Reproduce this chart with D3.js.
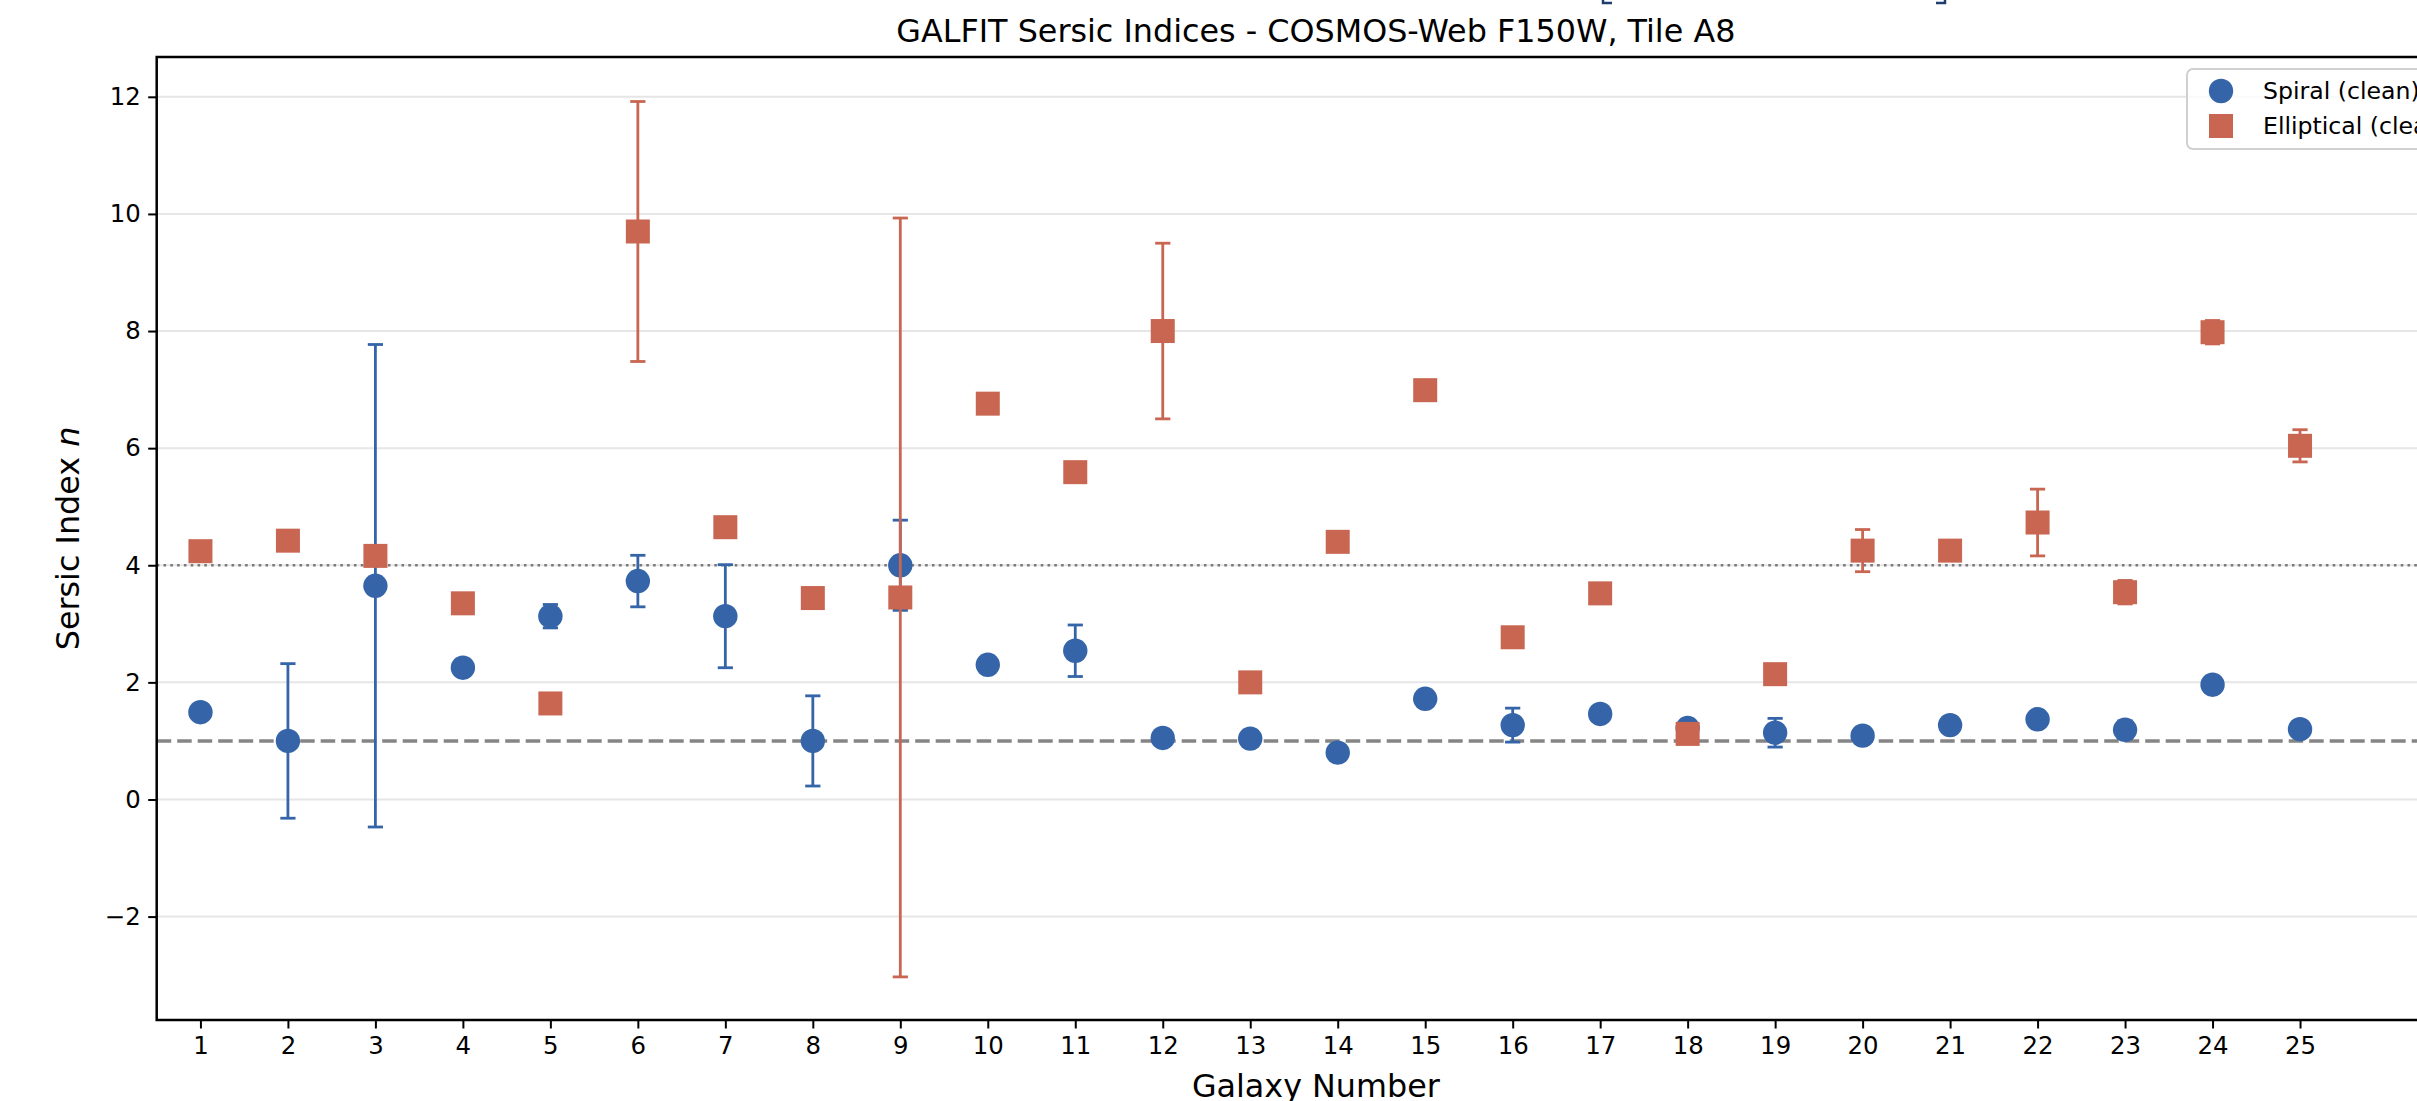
<!DOCTYPE html>
<html>
<head>
<meta charset="utf-8">
<script src="https://cdn.jsdelivr.net/npm/d3@7"></script>
<style>
  body { margin: 0; background: #fff; }
  svg { display: block; font-family: "DejaVu Sans", sans-serif; }
</style>
</head>
<body>
<svg id="chart"></svg>
<script>
// galaxy numbers and fitted sersic indices
var galaxyIds = [1, 2, 3, 4, 5, 6, 7, 8, 9, 10, 11, 12, 13, 14, 15, 16, 17, 18, 19, 20, 21, 22, 23, 24, 25];
var spiralN   = [1.49, 1.00, 3.65, 2.25, 3.13, 3.73, 3.13, 1.00, 4.00, 2.30, 2.54, 1.05, 1.04, 0.80, 1.72, 1.27, 1.46, 1.22, 1.14, 1.09, 1.27, 1.37, 1.19, 1.96, 1.20];
var spiralErr = [0, 1.32, 4.12, 0, 0.20, 0.44, 0.88, 0.77, 0.77, 0, 0.44, 0, 0, 0, 0, 0.29, 0, 0, 0.245, 0, 0, 0, 0.15, 0, 0];
var ellipN    = [4.24, 4.42, 4.16, 3.35, 1.64, 9.70, 4.65, 3.44, 3.45, 6.76, 5.59, 8.00, 2.00, 4.40, 6.99, 2.77, 3.52, 1.12, 2.14, 4.25, 4.25, 4.73, 3.54, 7.98, 6.04];
var ellipErr  = [0, 0, 0, 0, 0, 2.22, 0, 0, 6.48, 0, 0, 1.50, 0, 0, 0, 0, 0, 0, 0, 0.36, 0, 0.57, 0.20, 0.20, 0.275];
var yTicks = [-2, 0, 2, 4, 6, 8, 10, 12];
var refLines = [1, 4]; // exponential disk / de Vaucouleurs

var width = 2417;
var height = 1101;
var axLeft = 156.7, axRight = 2475, axTop = 57, axBottom = 1020;

var blue = "#3565a8";
var red = "#c86652";

var spiral = galaxyIds.map((g, i) => ({g: g, n: spiralN[i], e: spiralErr[i]}));
var ellip = galaxyIds.map((g, i) => ({g: g, n: ellipN[i], e: ellipErr[i]}));

var xScale = d3.scaleLinear()
                .domain([0.5, 27])
                .range([axLeft, axRight]);
var yScale = d3.scaleLinear()
                .domain([-3.766, 12.68])
                .range([axBottom, axTop]);

var svg = d3.select("#chart")
    .attr("width", width)
    .attr("height", height);

svg.append("rect").attr("width", width).attr("height", height).attr("fill", "#fff");

// gridlines
svg.append("g")
    .selectAll("line")
    .data(yTicks)
  .enter()
  .append("line")
    .attr("x1", axLeft).attr("x2", axRight)
    .attr("y1", d => yScale(d)).attr("y2", d => yScale(d))
    .attr("stroke", "#e6e6e6")
    .attr("stroke-width", 2);

// reference lines n=1 dashed, n=4 dotted
svg.append("line")
    .attr("x1", axLeft).attr("x2", axRight)
    .attr("y1", yScale(refLines[0])).attr("y2", yScale(refLines[0]))
    .attr("stroke", "#858585")
    .attr("stroke-width", 3.6)
    .attr("stroke-dasharray", "14.5,6");
svg.append("line")
    .attr("x1", axLeft).attr("x2", axRight)
    .attr("y1", yScale(refLines[1])).attr("y2", yScale(refLines[1]))
    .attr("stroke", "#7a7a7a")
    .attr("stroke-width", 2.6)
    .attr("stroke-dasharray", "2.6,4.2");

function drawSeries(data, color, shape) {
    var g = svg.append("g");
    var withErr = data.filter(d => d.e > 0);
    var cap = 7.6;
    g.selectAll("line.bar")
        .data(withErr)
      .enter()
      .append("line")
        .attr("x1", d => xScale(d.g)).attr("x2", d => xScale(d.g))
        .attr("y1", d => yScale(d.n - d.e)).attr("y2", d => yScale(d.n + d.e))
        .attr("stroke", color).attr("stroke-width", 2.8);
    [-1, 1].forEach(s => {
        g.selectAll("line.cap" + s)
            .data(withErr)
          .enter()
          .append("line")
            .attr("x1", d => xScale(d.g) - cap).attr("x2", d => xScale(d.g) + cap)
            .attr("y1", d => yScale(d.n + s * d.e)).attr("y2", d => yScale(d.n + s * d.e))
            .attr("stroke", color).attr("stroke-width", 2.8);
    });
    if (shape == "circle") {
        g.selectAll("circle")
            .data(data)
          .enter()
          .append("circle")
            .attr("cx", d => xScale(d.g))
            .attr("cy", d => yScale(d.n))
            .attr("r", 12.2)
            .attr("fill", color);
    } else {
        g.selectAll("rect")
            .data(data)
          .enter()
          .append("rect")
            .attr("x", d => xScale(d.g) - 12)
            .attr("y", d => yScale(d.n) - 12)
            .attr("width", 24).attr("height", 24)
            .attr("fill", color);
    }
}
drawSeries(spiral, blue, "circle");
drawSeries(ellip, red, "square");

// axes
var xAxis = d3.axisBottom(xScale)
                .tickValues(galaxyIds)
                .tickFormat(d3.format("d"))
                .tickSize(8.5)
                .tickPadding(8)
                .tickSizeOuter(0);
var yAxis = d3.axisLeft(yScale)
                .tickValues(yTicks)
                .tickFormat(d => d < 0 ? "\u2212" + Math.abs(d) : d)
                .tickSize(8.5)
                .tickPadding(7.5)
                .tickSizeOuter(0);

var gx = svg.append("g")
    .attr("transform", `translate(0, ${axBottom})`)
    .call(xAxis);
var gy = svg.append("g")
    .attr("transform", `translate(${axLeft}, 0)`)
    .call(yAxis);
[gx, gy].forEach(a => {
    a.select(".domain").remove();
    a.selectAll(".tick line").attr("stroke", "#000").attr("stroke-width", 2);
    a.selectAll(".tick text").attr("fill", "#000").attr("font-size", 24.4).attr("font-family", "DejaVu Sans");
});

// spines
svg.append("rect")
    .attr("x", axLeft).attr("y", axTop)
    .attr("width", axRight - axLeft).attr("height", axBottom - axTop)
    .attr("fill", "none")
    .attr("stroke", "#000")
    .attr("stroke-width", 2.5);

// title and labels
svg.append("text")
    .attr("x", (axLeft + axRight) / 2)
    .attr("y", 42)
    .attr("text-anchor", "middle")
    .attr("font-size", 31.8)
    .text("GALFIT Sersic Indices - COSMOS-Web F150W, Tile A8");

svg.append("text")
    .attr("x", (axLeft + axRight) / 2)
    .attr("y", 1097)
    .attr("text-anchor", "middle")
    .attr("font-size", 31.8)
    .text("Galaxy Number");

var yl = svg.append("text")
    .attr("transform", `translate(79, ${(axTop + axBottom) / 2}) rotate(-90)`)
    .attr("text-anchor", "middle")
    .attr("font-size", 31.8);
yl.append("tspan").text("Sersic Index ");
yl.append("tspan").attr("font-style", "italic").text("n");

// legend
var lg = svg.append("g");
lg.append("rect")
    .attr("x", 2187).attr("y", 69)
    .attr("width", 320).attr("height", 80)
    .attr("rx", 6)
    .attr("fill", "#fff").attr("fill-opacity", 0.8)
    .attr("stroke", "#d0d0d0").attr("stroke-width", 2);
lg.append("circle").attr("cx", 2221).attr("cy", 91).attr("r", 12.2).attr("fill", blue);
lg.append("rect").attr("x", 2209).attr("y", 114).attr("width", 24).attr("height", 24).attr("fill", red);
lg.append("text").attr("x", 2263).attr("y", 98.5).attr("font-size", 23.6).text("Spiral (clean)");
lg.append("text").attr("x", 2263).attr("y", 133.5).attr("font-size", 23.6).text("Elliptical (clean)");

// cut-off fragments at the very top edge
svg.append("path").attr("d", "M1603,0 V3 H1612").attr("fill", "none").attr("stroke", "#1f3d6e").attr("stroke-width", 2.5);
svg.append("path").attr("d", "M1936,3 H1945 V0").attr("fill", "none").attr("stroke", "#1f3d6e").attr("stroke-width", 2.5);
</script>
</body>
</html>
